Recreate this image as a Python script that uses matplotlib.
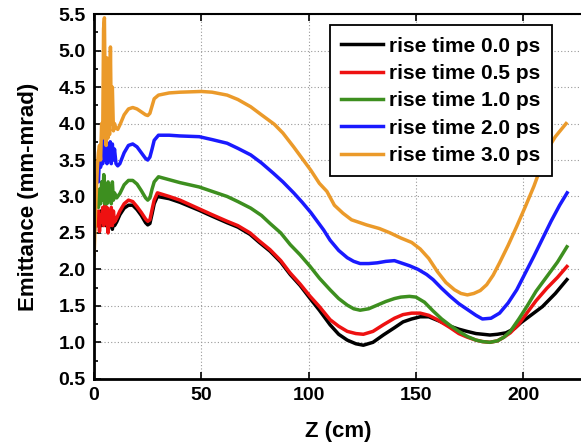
import matplotlib
matplotlib.use("Agg")
import matplotlib.pyplot as plt
from matplotlib.ticker import MultipleLocator, FormatStrFormatter

plt.rcParams['font.family'] = ['Liberation Sans', 'DejaVu Sans']
plt.rcParams['font.weight'] = 'bold'

# emittance vs Z
z_00 = [0, 0.7, 1.4, 2, 2.5, 3, 3.5, 4, 4.5, 5, 5.5, 6, 6.5, 7, 7.5, 8, 8.5, 9, 9.5, 10.5,
        12, 14, 16, 18, 20, 22, 24, 25, 26, 27, 28, 29.5, 35, 40, 49, 55, 62, 67, 72.7, 77,
        82, 87, 91.4, 96, 100.7, 105, 110, 114, 118, 122, 125.5, 130, 134.8, 140, 144, 148,
        152, 156, 161, 166, 170, 173.8, 178, 184.5, 188, 192, 196, 199, 204, 209, 215, 220.4]
em_00 = [2.5, 2.7, 2.6, 2.75, 2.65, 2.8, 2.6, 2.75, 2.65, 2.8, 2.6, 2.75, 2.62, 2.8, 2.6, 2.78, 2.55, 2.7, 2.6, 2.65,
         2.75, 2.84, 2.88, 2.88, 2.82, 2.74, 2.64, 2.61, 2.63, 2.76, 2.9, 3.0, 2.97, 2.92, 2.81, 2.73, 2.64, 2.58, 2.48, 2.37,
         2.25, 2.1, 1.93, 1.78, 1.6, 1.44, 1.24, 1.11, 1.03, 0.98, 0.96, 1.0, 1.10, 1.2, 1.28, 1.32,
         1.35, 1.35, 1.29, 1.22, 1.18, 1.15, 1.12, 1.10, 1.11, 1.13, 1.19, 1.27, 1.38, 1.49, 1.67, 1.86]

z_05 = [0, 0.7, 1.4, 2, 2.5, 3, 3.5, 4, 4.5, 5, 5.5, 6, 6.5, 7, 7.5, 8, 8.5, 9, 9.5, 10.5,
        12, 14, 16, 18, 20, 22, 24, 25, 26, 27, 28, 29.5, 35, 40, 49, 55, 62, 67, 72.7, 77,
        82, 87, 91.4, 96, 100.7, 105, 110, 114, 118, 122, 125.5, 130, 134.8, 140, 144, 148,
        152, 156, 160, 166, 170, 174, 178, 181, 184.5, 188, 191, 194, 198, 201.7, 206, 211, 216, 220.4]
em_05 = [2.55, 2.75, 2.6, 2.8, 2.52, 2.75, 2.65, 2.85, 2.6, 2.9, 2.7, 2.85, 2.5, 2.8, 2.6, 2.85, 2.6, 2.8, 2.65, 2.7,
         2.8, 2.9, 2.95, 2.93, 2.86, 2.78, 2.69, 2.66, 2.68, 2.82, 2.95, 3.05, 3.0, 2.95, 2.83, 2.75, 2.66, 2.6, 2.5, 2.39,
         2.27, 2.12, 1.95, 1.8, 1.63, 1.49, 1.31, 1.22, 1.15, 1.12, 1.11, 1.15, 1.24, 1.33, 1.38, 1.40,
         1.40, 1.37, 1.31, 1.2, 1.12, 1.07, 1.03, 1.01, 1.0, 1.02, 1.07, 1.13, 1.25, 1.40, 1.57, 1.74, 1.89, 2.04]

z_10 = [0, 0.7, 1.4, 2, 2.5, 3, 3.5, 4, 4.5, 5, 5.5, 6, 6.5, 7, 7.5, 8, 8.5, 9, 9.5, 10.5,
        12, 14, 16, 18, 20, 22, 24, 25, 26, 27, 28, 30, 35, 40, 49, 55, 62, 67, 73, 78,
        82, 87, 91.4, 96, 100.7, 105, 110, 114, 118, 121, 124, 128, 132, 136, 140, 143, 147,
        150, 154, 158, 162, 166, 170, 174, 178, 181, 184.5, 188, 191, 194, 198, 201.7, 206, 211, 216, 220.4]
em_10 = [2.65, 2.9, 3.05, 2.85, 3.1, 2.9, 3.2, 2.95, 3.3, 2.9, 3.15, 2.9, 3.2, 2.95, 3.15, 2.9, 3.2, 2.95, 3.05, 2.98,
         3.04, 3.16, 3.22, 3.22, 3.17, 3.08, 2.98, 2.95, 2.98, 3.1, 3.2, 3.27, 3.23, 3.19, 3.13, 3.07, 3.0, 2.93, 2.84, 2.74,
         2.63, 2.5, 2.34, 2.2, 2.04, 1.88, 1.72, 1.6, 1.51, 1.46, 1.44, 1.46, 1.51, 1.56, 1.6, 1.62, 1.63,
         1.62, 1.55, 1.43, 1.32, 1.23, 1.15, 1.08, 1.03, 1.01, 1.0, 1.02, 1.07, 1.15, 1.32, 1.49, 1.7, 1.9, 2.1, 2.31]

z_20 = [0, 0.7, 1.4, 2, 2.5, 3, 3.5, 4, 4.5, 5, 5.5, 6, 6.5, 7, 7.5, 8, 8.5, 9, 9.5, 10.2,
        11, 12, 14, 16, 18, 20, 22, 24, 25, 26, 27, 28, 30, 35, 40, 49, 55, 62, 67, 73,
        78, 83.5, 88, 93, 97, 101, 104, 107, 110, 114, 118, 121, 124, 128, 132, 136, 140, 143,
        147, 151, 155, 158, 162, 166, 170, 174, 178, 181, 185, 189, 193, 197, 201, 205, 209, 213, 217, 220.5]
em_20 = [2.8, 3.1, 3.3, 3.2, 3.55, 3.4, 3.6, 3.45, 4.08, 3.5, 3.75, 3.45, 3.7, 3.5, 3.75, 3.45, 3.72, 3.5, 3.65, 3.45,
         3.42, 3.45, 3.6, 3.7, 3.72, 3.68, 3.6, 3.52, 3.5, 3.54, 3.65, 3.77, 3.84, 3.84, 3.83, 3.82, 3.78, 3.73, 3.66, 3.57,
         3.46, 3.32, 3.2, 3.05, 2.92, 2.78, 2.66, 2.54, 2.40, 2.26, 2.16, 2.11, 2.08, 2.08, 2.09, 2.11, 2.12, 2.09,
         2.05, 2.0, 1.93, 1.86, 1.74, 1.63, 1.53, 1.45, 1.37, 1.32, 1.33, 1.40, 1.54, 1.72, 1.95, 2.18, 2.42, 2.66, 2.88, 3.05]

z_30 = [0, 0.8, 1.5, 2, 2.5, 3, 3.5, 4, 4.4, 4.8, 5.2, 5.6, 6, 6.4, 6.8, 7.2, 7.6, 8, 8.5, 9,
        9.5, 10, 11, 12, 14, 16, 18, 20, 22, 24, 25, 26, 27, 28, 30, 35, 40, 50, 55, 62,
        67, 73, 78, 84, 88, 93, 97, 101, 105, 108.5, 112, 116, 120, 127, 133, 138, 143, 148,
        152, 156, 160, 164, 168, 171, 174, 177, 180, 183, 186, 189, 193, 197, 201, 205, 208, 211, 215, 220]
em_30 = [2.2, 2.9, 3.4, 3.6, 3.7, 3.5, 4.0, 3.8, 5.3, 5.45, 4.2, 3.7, 4.9, 3.8, 4.2, 3.85, 5.05, 4.0, 4.5, 3.9,
         4.0, 3.95, 3.92, 3.98, 4.12, 4.2, 4.22, 4.2, 4.16, 4.12, 4.11, 4.14, 4.24, 4.34, 4.39, 4.42, 4.43, 4.44, 4.43, 4.39,
         4.33, 4.23, 4.12, 3.99, 3.87, 3.68, 3.52, 3.36, 3.18, 3.07, 2.88, 2.77, 2.68, 2.61, 2.56, 2.50, 2.43, 2.37,
         2.28, 2.15, 1.97, 1.82, 1.72, 1.67, 1.65, 1.67, 1.71, 1.79, 1.92, 2.09, 2.33, 2.59, 2.86, 3.14, 3.38, 3.63, 3.82, 4.0]

series = [
    (z_00, em_00, "rise time 0.0 ps", "black"),
    (z_05, em_05, "rise time 0.5 ps", "#ee1111"),
    (z_10, em_10, "rise time 1.0 ps", "#3d8f1f"),
    (z_20, em_20, "rise time 2.0 ps", "#1a1aff"),
    (z_30, em_30, "rise time 3.0 ps", "#eb9a2a"),
]

fig = plt.figure(figsize=(5.81, 4.43), dpi=100)
ax = fig.add_axes([0.162, 0.145, 0.84, 0.823])

for z, em, lab, col in series:
    ax.plot(z, em, color=col, lw=2.5, label=lab)

ax.set_xlim(0, 227.5)
ax.set_ylim(0.5, 5.5)
ax.xaxis.set_major_locator(MultipleLocator(50))
ax.yaxis.set_major_locator(MultipleLocator(0.5))
ax.yaxis.set_minor_locator(MultipleLocator(0.25))
ax.yaxis.set_major_formatter(FormatStrFormatter('%.1f'))

ax.grid(True, which='major', color='#999999', linestyle=(0, (1, 2)), lw=0.8)
ax.tick_params(direction='in', which='both', top=True, labelsize=14, width=1.2)
ax.tick_params(which='major', length=5, pad=6)
ax.tick_params(which='minor', length=3)
for lbl in ax.get_xticklabels() + ax.get_yticklabels():
    lbl.set_fontweight('bold')

ax.spines['right'].set_visible(False)
for s in ['left', 'bottom']:
    ax.spines[s].set_linewidth(2)
ax.spines['top'].set_linewidth(1.5)

ax.set_xlabel("Z (cm)", fontsize=16, fontweight='bold', labelpad=12)
ax.set_ylabel("Emittance (mm-mrad)", fontsize=16, fontweight='bold', labelpad=14)

leg = ax.legend(loc='upper right', bbox_to_anchor=(0.938, 0.97), borderaxespad=0,
                fancybox=False, edgecolor='black', framealpha=1,
                prop={'weight': 'bold', 'size': 15}, handlelength=2.0,
                handletextpad=0.3, labelspacing=0.4, borderpad=0.55)
leg.get_frame().set_linewidth(1.3)

fig.savefig("out.png", dpi=100)
